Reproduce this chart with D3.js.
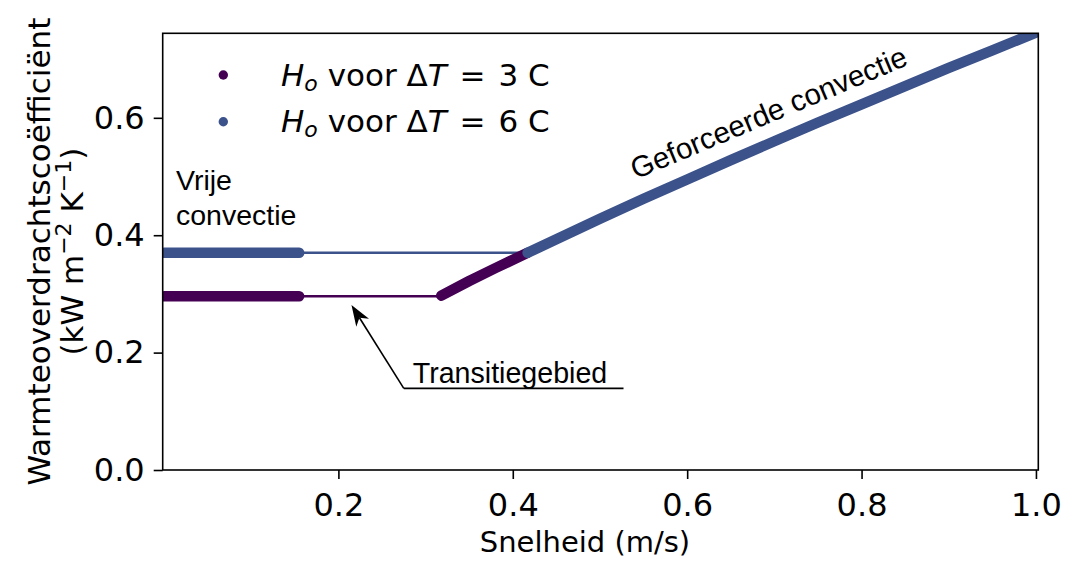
<!DOCTYPE html>
<html><head><meta charset="utf-8">
<script src="https://cdn.jsdelivr.net/npm/d3@7"></script>
<style>
html,body{margin:0;padding:0;background:#fff;}
svg{display:block;}
</style></head>
<body><svg id="chart" width="1067" height="561"></svg>
<script>
// ---- data ----
const seriesNames = ["3 C", "6 C"];
const seriesColors = ["#440154", "#3b528b"];
const freeSpeed = [0.0, 0.155];              // thick "vrije convectie" segment
const freeH = [0.296, 0.370];                // H_o in free convection for 3 C and 6 C
const transitionEnd = [0.318, 0.417];        // speed where each series meets forced curve
const forcedSpeed = [0.318, 0.35, 0.38, 0.417, 0.45, 0.5, 0.55, 0.6, 0.65, 0.7, 0.75, 0.8, 0.85, 0.9, 0.95, 1.0];
const forcedH     = [0.297, 0.322, 0.344, 0.370, 0.393, 0.428, 0.462, 0.495, 0.528, 0.560, 0.592, 0.623, 0.654, 0.685, 0.715, 0.745];
const xTicks = [0.2, 0.4, 0.6, 0.8, 1.0];
const yTicks = [0.0, 0.2, 0.4, 0.6];
const xDomain = [-0.0015, 1.0027];
const yDomain = [0, 0.744];

// ---- layout ----
const L = 162.7, R = 1038.3, T = 33.3, B = 470;
const x = d3.scaleLinear().domain(xDomain).range([L, R]);
const y = d3.scaleLinear().domain(yDomain).range([B, T]);
const svg = d3.select("#chart");
const FONT = "DejaVu Sans";
const AFONT = "Liberation Sans";

svg.append("defs").append("clipPath").attr("id", "clip")
  .append("rect").attr("x", L).attr("y", T).attr("width", R - L).attr("height", B - T);

const line = d3.line().x(d => x(d[0])).y(d => y(d[1]));
const plot = svg.append("g").attr("clip-path", "url(#clip)");
const THICK = 10.5, THIN = 2.6;

// thin transition lines (6 C first, then 3 C)
[1, 0].forEach(i => {
  plot.append("path")
    .attr("d", line([[freeSpeed[1], freeH[i]], [transitionEnd[i], freeH[i]]]))
    .attr("fill", "none").attr("stroke", seriesColors[i]).attr("stroke-width", THIN);
});
// thick free convection
[0, 1].forEach(i => {
  plot.append("path")
    .attr("d", line([[freeSpeed[0], freeH[i]], [freeSpeed[1], freeH[i]]]))
    .attr("fill", "none").attr("stroke", seriesColors[i]).attr("stroke-width", THICK)
    .attr("stroke-linecap", "round");
});
// thick forced convection
const forcedPts = forcedSpeed.map((v, k) => [v, forcedH[k]]);
const seg3 = forcedPts.filter(p => p[0] >= transitionEnd[0] && p[0] <= transitionEnd[1]);
const seg6 = forcedPts.filter(p => p[0] >= transitionEnd[1]);
[[seg3, 0], [seg6, 1]].forEach(([pts, i]) => {
  plot.append("path")
    .attr("d", line(pts))
    .attr("fill", "none").attr("stroke", seriesColors[i]).attr("stroke-width", THICK)
    .attr("stroke-linecap", "round").attr("stroke-linejoin", "round");
});

// ---- axes ----
const gx = svg.append("g").attr("transform", `translate(0,${B})`)
  .call(d3.axisBottom(x).tickValues(xTicks).tickFormat(d3.format(".1f")).tickSize(9).tickPadding(14));
const gy = svg.append("g").attr("transform", `translate(${L},0)`)
  .call(d3.axisLeft(y).tickValues(yTicks).tickFormat(d3.format(".1f")).tickSize(9).tickPadding(9));
[gx, gy].forEach(g => {
  g.select(".domain").remove();
  g.selectAll(".tick line").attr("stroke", "#000").attr("stroke-width", 1.6);
  g.selectAll(".tick text").attr("fill", "#000")
    .style("font-family", FONT).style("font-size", "32px");
});
svg.append("rect").attr("x", L).attr("y", T).attr("width", R - L).attr("height", B - T)
  .attr("fill", "none").attr("stroke", "#000").attr("stroke-width", 1.6);

// axis labels
svg.append("text").attr("x", 585).attr("y", 552).attr("text-anchor", "middle")
  .style("font-family", FONT).style("font-size", "29px").text("Snelheid (m/s)");
svg.append("text").attr("transform", `translate(50,${(T + B) / 2}) rotate(-90)`)
  .attr("text-anchor", "middle").style("font-family", FONT).style("font-size", "31px")
  .text("Warmteoverdrachtscoëfficiënt");
const yl2 = svg.append("text").attr("transform", `translate(83,${(T + B) / 2}) rotate(-90)`)
  .attr("text-anchor", "middle").style("font-family", FONT).style("font-size", "31px");
yl2.append("tspan").text("(kW m");
yl2.append("tspan").attr("dy", -12).style("font-size", "22px").text("−2");
yl2.append("tspan").attr("dy", 12).text(" K");
yl2.append("tspan").attr("dy", -12).style("font-size", "22px").text("−1");
yl2.append("tspan").attr("dy", 12).text(")");

// ---- legend ----
seriesNames.forEach((name, i) => {
  const cy = 75 + i * 46.7;
  svg.append("circle").attr("cx", 223.3).attr("cy", cy).attr("r", 4.7).attr("fill", seriesColors[i]);
  const t = svg.append("text").attr("x", 281).attr("y", cy + 10.5)
    .style("font-family", FONT).style("font-size", "31px");
  t.append("tspan").style("font-style", "italic").text("H");
  t.append("tspan").attr("dy", 5).style("font-style", "italic").style("font-size", "22px").text("o");
  t.append("tspan").attr("dy", -5).text(" voor Δ");
  t.append("tspan").style("font-style", "italic").text("T");
  t.append("tspan").text(" \u200A=\u200A " + name);
});

// ---- annotations ----
const ann = (txt, px, py, fs) => svg.append("text").attr("x", px).attr("y", py)
  .style("font-family", AFONT).style("font-size", fs + "px").text(txt);
ann("Vrije", 176, 190, 28.5);
ann("convectie", 176, 225, 28.5);
svg.append("text").attr("transform", `translate(${x(0.698)},${y(0.593)}) rotate(-22.8)`)
  .attr("text-anchor", "middle").style("font-family", AFONT).style("font-size", "29.5px")
  .text("Geforceerde convectie");

// Transitiegebied with arrow
const tip = [0.215, 0.281], tail = [0.275, 0.139], underlineEnd = 0.527;
ann("Transitiegebied", x(tail[0]) + 9, y(tail[1]) - 5, 28.6);
svg.append("path")
  .attr("d", `M${x(underlineEnd)},${y(tail[1])} L${x(tail[0])},${y(tail[1])}`)
  .attr("stroke", "#000").attr("stroke-width", 1.6).attr("fill", "none");
const tx = x(tip[0]), ty = y(tip[1]), sx = x(tail[0]), sy = y(tail[1]);
const len = Math.hypot(tx - sx, ty - sy), ux = (tx - sx) / len, uy = (ty - sy) / len;
const px = -uy, py = ux, hl = 21, hw = 7.5, notch = 6;
svg.append("path")
  .attr("d", `M${sx},${sy} L${tx - ux * (hl - notch)},${ty - uy * (hl - notch)}`)
  .attr("stroke", "#000").attr("stroke-width", 1.6);
svg.append("path")
  .attr("d", `M${tx},${ty} L${tx - ux * hl + px * hw},${ty - uy * hl + py * hw} L${tx - ux * (hl - notch)},${ty - uy * (hl - notch)} L${tx - ux * hl - px * hw},${ty - uy * hl - py * hw} Z`)
  .attr("fill", "#000");
</script></body></html>
